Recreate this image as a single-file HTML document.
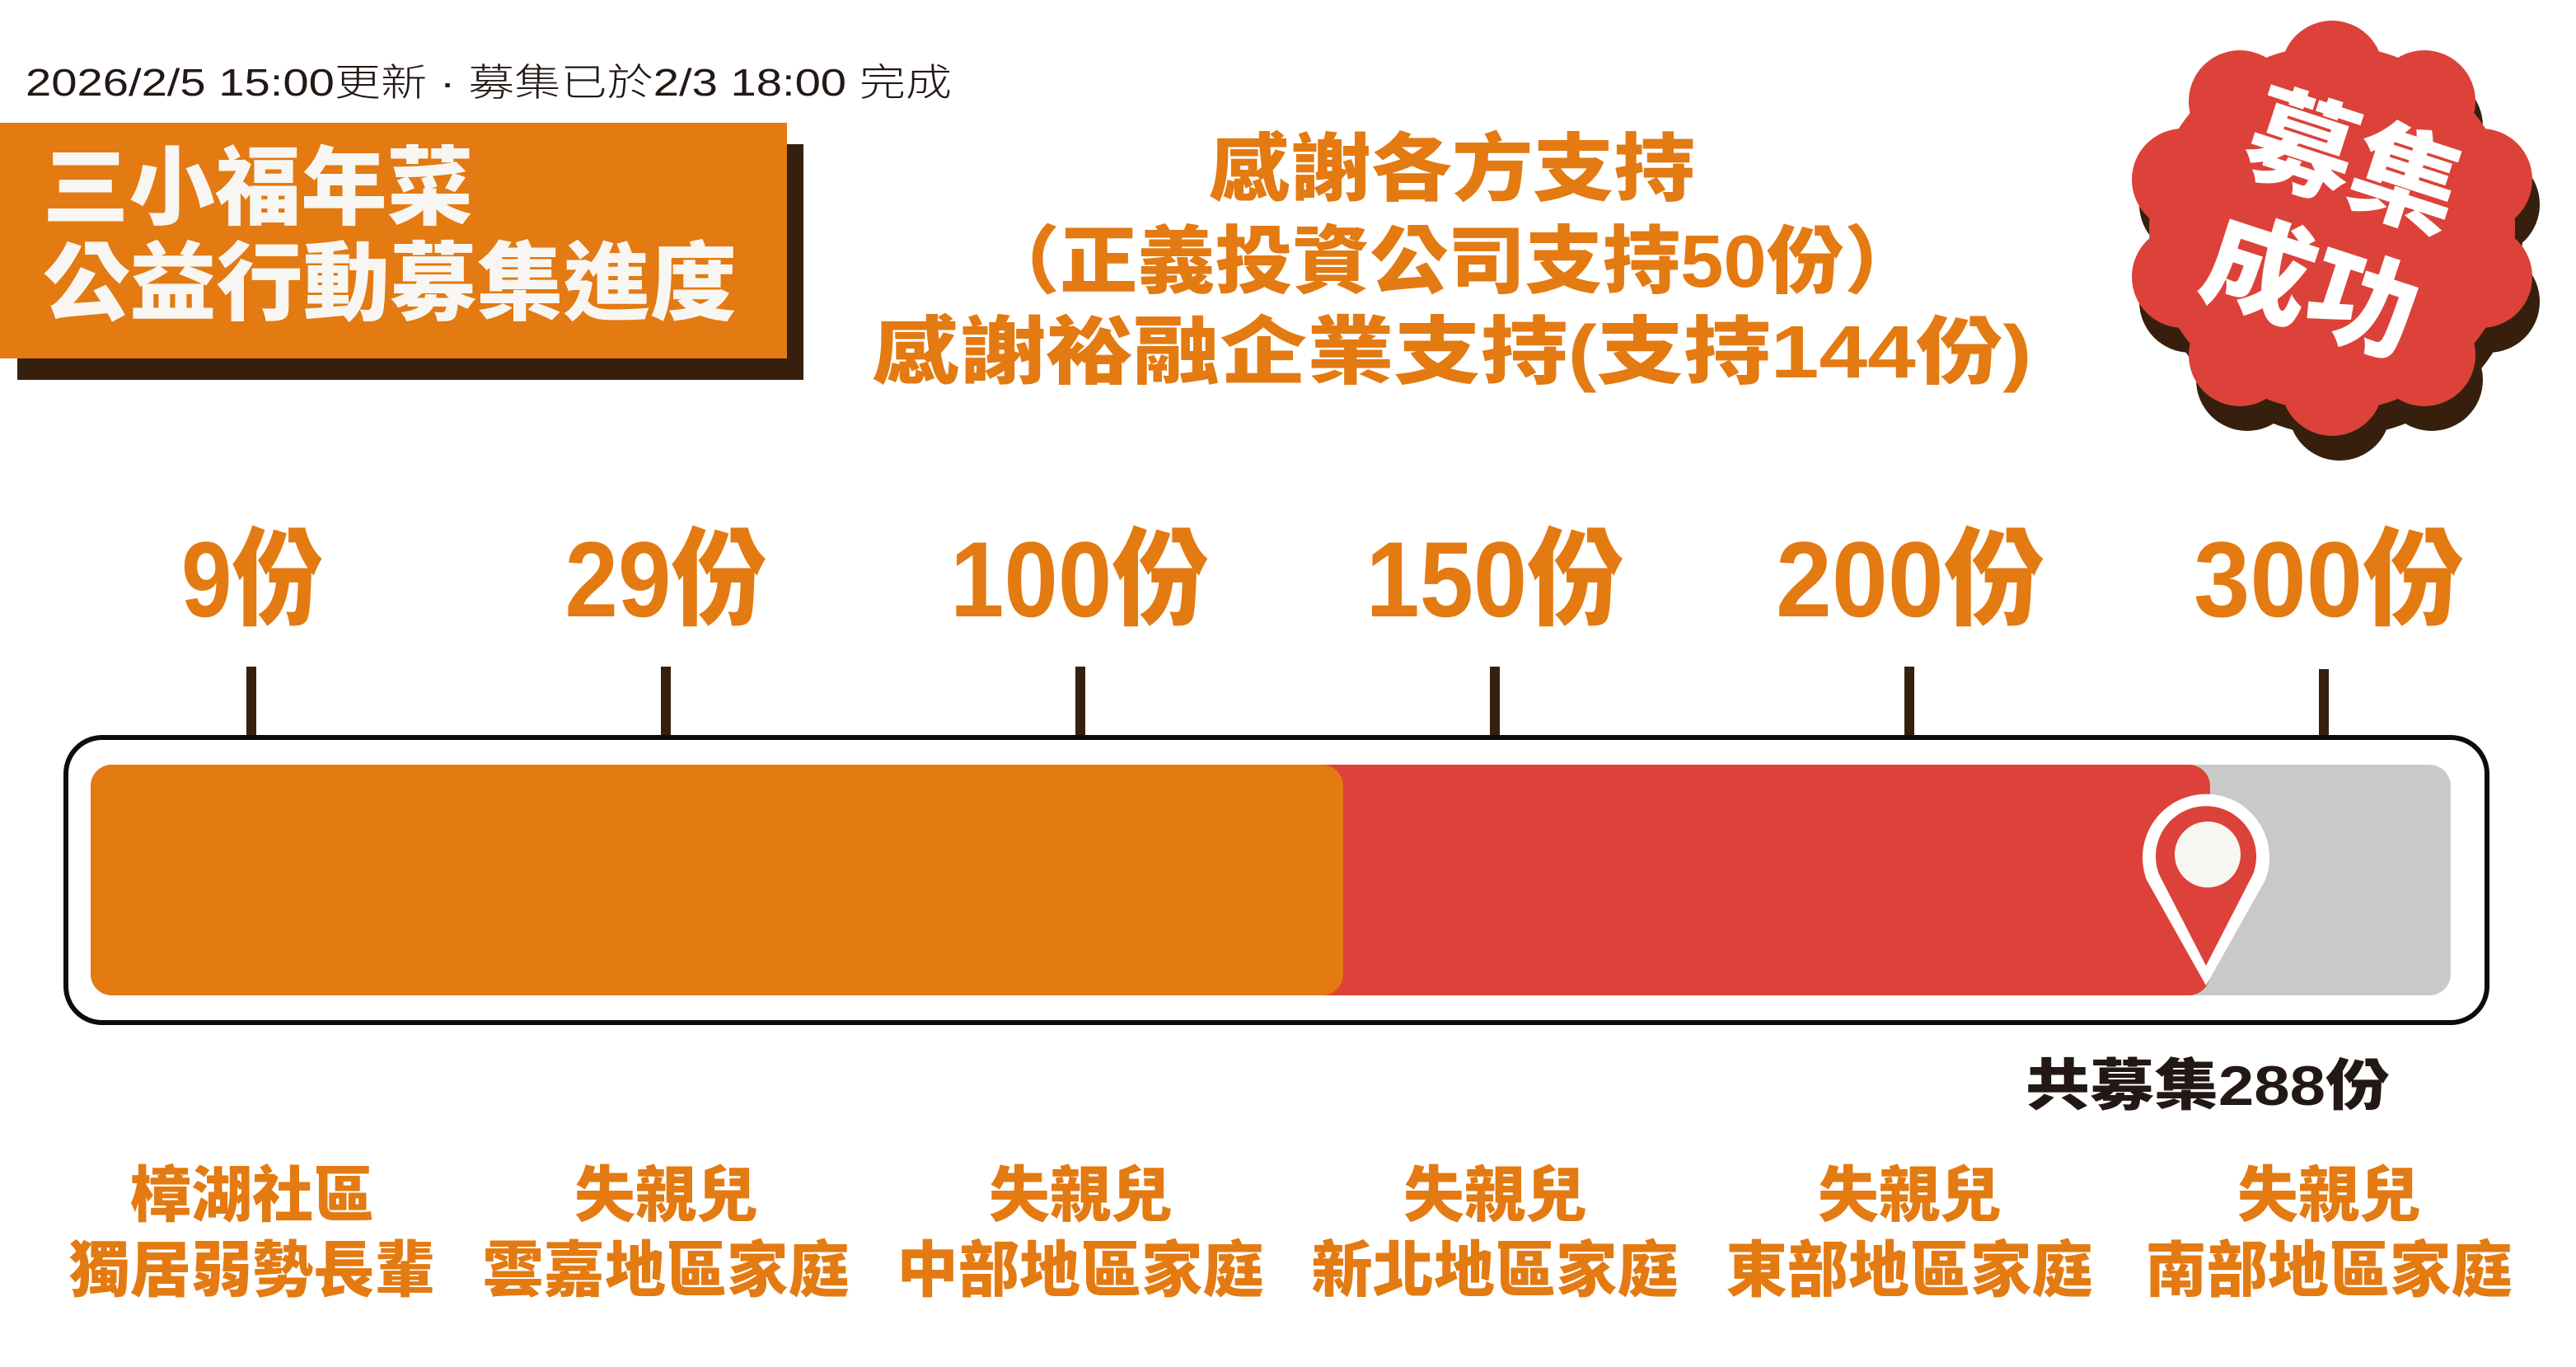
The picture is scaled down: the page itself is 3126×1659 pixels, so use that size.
<!DOCTYPE html>
<html><head><meta charset="utf-8">
<style>
html,body{margin:0;padding:0;background:#fff;}
svg{display:block;}
text{font-family:"Liberation Sans","Noto Sans CJK TC","Noto Sans CJK SC",sans-serif;}
.b{font-weight:900;}
</style></head>
<body>
<svg width="3126" height="1659" viewBox="0 0 3126 1659" xmlns="http://www.w3.org/2000/svg">
<defs>
<g id="badge">
<circle cx="2830" cy="277" r="222"/>
<circle cx="2830" cy="87" r="62"/>
<circle cx="2942" cy="123" r="62"/>
<circle cx="3011" cy="218" r="62"/>
<circle cx="3011" cy="336" r="62"/>
<circle cx="2942" cy="431" r="62"/>
<circle cx="2830" cy="467" r="62"/>
<circle cx="2718" cy="431" r="62"/>
<circle cx="2649" cy="336" r="62"/>
<circle cx="2649" cy="218" r="62"/>
<circle cx="2718" cy="123" r="62"/>
</g>
</defs>

<text x="31" y="116" font-size="46" fill="#231815" textLength="1124" lengthAdjust="spacingAndGlyphs" style="font-weight:300">2026/2/5 15:00更新 · 募集已於2/3 18:00 完成</text>

<rect x="21" y="175" width="954" height="286" fill="#36200D"/>
<rect x="0" y="149" width="955" height="286" fill="#E37A12"/>
<text class="b" x="52" y="264" font-size="104" fill="#F8F6F2" textLength="522" lengthAdjust="spacingAndGlyphs">三小福年菜</text>
<text class="b" x="52" y="380" font-size="104" fill="#F8F6F2" textLength="842" lengthAdjust="spacingAndGlyphs">公益行動募集進度</text>

<g class="b" font-size="90" fill="#E37A12" text-anchor="middle">
<text x="1762" y="236" textLength="590" lengthAdjust="spacingAndGlyphs">感謝各方支持</text>
<text x="1762" y="348" textLength="1140" lengthAdjust="spacingAndGlyphs">（正義投資公司支持50份）</text>
<text x="1762" y="458" textLength="1407" lengthAdjust="spacingAndGlyphs">感謝裕融企業支持(支持144份)</text>
</g>

<use href="#badge" transform="translate(9,30)" fill="#36200D"/>
<use href="#badge" fill="#DC4239"/>
<g class="b" font-size="132" fill="#FFFFFF" text-anchor="middle" dominant-baseline="central">
<text transform="translate(2856,199) rotate(18)">募集</text>
<text transform="translate(2804,349) rotate(18)">成功</text>
</g>

<g class="b" font-size="130" fill="#E37A12" text-anchor="middle">
<text x="306" y="748" textLength="172" lengthAdjust="spacingAndGlyphs">9份</text>
<text x="808" y="748" textLength="245" lengthAdjust="spacingAndGlyphs">29份</text>
<text x="1310" y="748" textLength="314" lengthAdjust="spacingAndGlyphs">100份</text>
<text x="1814" y="748" textLength="313" lengthAdjust="spacingAndGlyphs">150份</text>
<text x="2318" y="748" textLength="326" lengthAdjust="spacingAndGlyphs">200份</text>
<text x="2826" y="748" textLength="328" lengthAdjust="spacingAndGlyphs">300份</text>
</g>

<g fill="#36200D">
<rect x="299" y="809" width="12" height="86"/>
<rect x="802" y="809" width="12" height="86"/>
<rect x="1305" y="809" width="12" height="86"/>
<rect x="1808" y="809" width="12" height="86"/>
<rect x="2311" y="809" width="12" height="86"/>
<rect x="2814" y="812" width="12" height="83"/>
</g>

<rect x="80" y="895" width="2938" height="346" rx="44" ry="44" fill="#fff" stroke="#0E0B09" stroke-width="6"/>
<rect x="110" y="928" width="2864" height="280" rx="26" ry="26" fill="#C9C9C9"/>
<rect x="110" y="928" width="2572" height="280" rx="26" ry="26" fill="#DC4239"/>
<rect x="110" y="928" width="1520" height="280" rx="26" ry="26" fill="#E37A12"/>

<path d="M2677 1196 L2605 1068 A77 77 0 1 1 2749 1068 Z" fill="#FFFFFF"/>
<path d="M2677 1172 L2620 1061 A61 61 0 1 1 2734 1061 Z" fill="#DC4239"/>
<ellipse cx="2679" cy="1037" rx="40" ry="40" fill="#F8F6F2"/>

<text class="b" x="2679" y="1341" font-size="68" fill="#231815" text-anchor="middle" textLength="442" lengthAdjust="spacingAndGlyphs">共募集288份</text>

<g class="b" font-size="74" fill="#E37A12" text-anchor="middle">
<text x="306" y="1476">樟湖社區</text>
<text x="306" y="1567" textLength="445" lengthAdjust="spacingAndGlyphs">獨居弱勢長輩</text>
<text x="808" y="1476">失親兒</text>
<text x="808" y="1567" textLength="445" lengthAdjust="spacingAndGlyphs">雲嘉地區家庭</text>
<text x="1311" y="1476">失親兒</text>
<text x="1311" y="1567" textLength="445" lengthAdjust="spacingAndGlyphs">中部地區家庭</text>
<text x="1814" y="1476">失親兒</text>
<text x="1814" y="1567" textLength="445" lengthAdjust="spacingAndGlyphs">新北地區家庭</text>
<text x="2317" y="1476">失親兒</text>
<text x="2317" y="1567" textLength="445" lengthAdjust="spacingAndGlyphs">東部地區家庭</text>
<text x="2826" y="1476">失親兒</text>
<text x="2826" y="1567" textLength="445" lengthAdjust="spacingAndGlyphs">南部地區家庭</text>
</g>
</svg>
</body></html>
